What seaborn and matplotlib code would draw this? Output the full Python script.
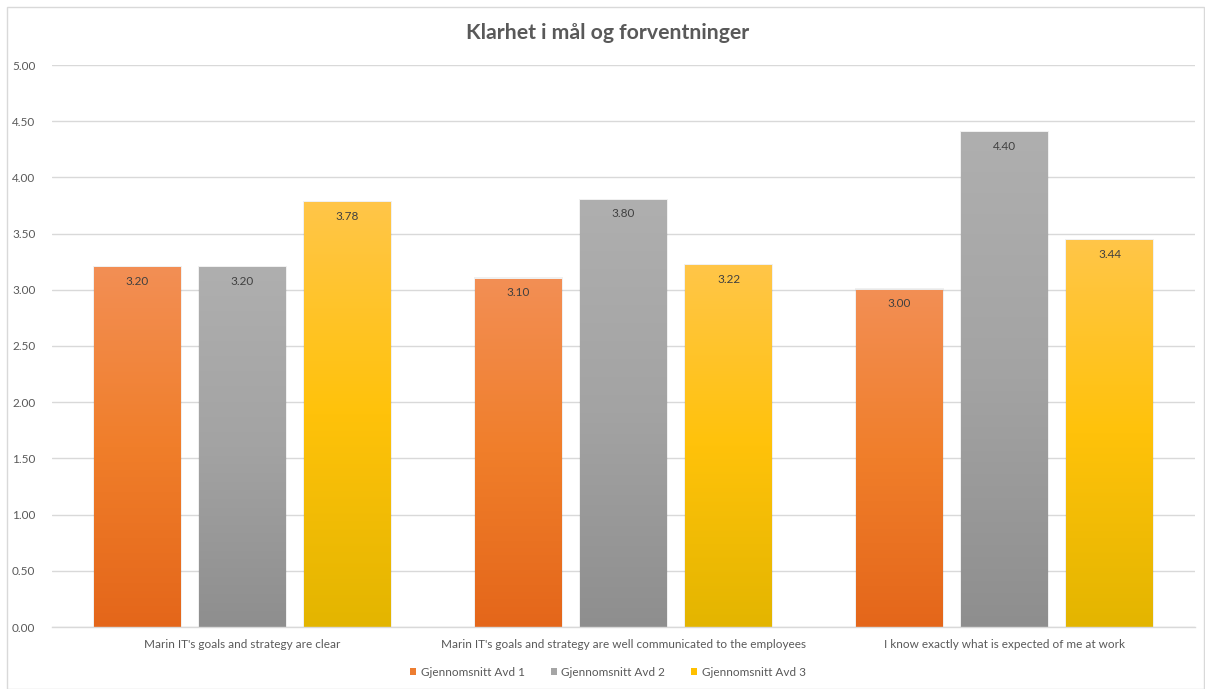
import numpy as np
import pandas as pd
import matplotlib
matplotlib.use("Agg")
import matplotlib.pyplot as plt
from matplotlib.colors import LinearSegmentedColormap, to_rgb
from matplotlib.patches import Rectangle
import seaborn as sns

# Survey results: average score per statement and department
categories = [
    "Marin IT's goals and strategy are clear",
    "Marin IT's goals and strategy are well communicated to the employees",
    "I know exactly what is expected of me at work",
]
series = ["Gjennomsnitt Avd 1", "Gjennomsnitt Avd 2", "Gjennomsnitt Avd 3"]
avd1 = [3.20, 3.10, 3.00]
avd2 = [3.20, 3.80, 4.40]
avd3 = [3.78, 3.22, 3.44]
title = "Klarhet i mål og forventninger"

base_colors = ["#ED7D31", "#A5A5A5", "#FFC000"]
# bottom, middle, top stops of each bar's vertical gradient
gradients = [
    ["#E4661A", "#F07E2A", "#F38F55"],
    ["#8E8E8E", "#A3A3A3", "#AFAFAF"],
    ["#E3B500", "#FFC20A", "#FFC649"],
]

df = pd.DataFrame({
    "category": categories * 3,
    "series": [s for s in series for _ in categories],
    "value": avd1 + avd2 + avd3,
})

sns.set_theme(style="white")
plt.rcParams["font.family"] = ["Lato", "DejaVu Sans"]
text_color = "#595959"
grid_color = "#D9D9D9"

fig = plt.figure(figsize=(12.05, 6.89), dpi=100)
ax = fig.add_axes([52 / 1205, 62 / 689, (1195 - 52) / 1205, (627 - 65) / 689])

sns.barplot(data=df, x="category", y="value", hue="series",
            order=categories, hue_order=series, palette=base_colors,
            width=0.827, gap=0.18, legend=False, ax=ax, zorder=2,
            edgecolor="none", linewidth=0)

ax.set_ylim(0, 5)
ax.set_yticks(np.arange(0, 5.01, 0.5))
ax.yaxis.set_major_formatter(matplotlib.ticker.FormatStrFormatter("%.2f"))
ax.yaxis.grid(True, color=grid_color, linewidth=1)
ax.set_axisbelow(True)
for side in ["top", "right", "left"]:
    ax.spines[side].set_visible(False)
ax.spines["bottom"].set_color(grid_color)
ax.spines["bottom"].set_linewidth(1)
ax.tick_params(axis="both", length=0, colors=text_color, labelsize=8.5)
ax.tick_params(axis="y", pad=12)
ax.tick_params(axis="x", pad=9)
ax.set_xlabel("")
ax.set_ylabel("")

# Replace flat fills with vertical gradients
xlim = ax.get_xlim()
for container, stops in zip(ax.containers, gradients):
    cmap = LinearSegmentedColormap.from_list("g", [to_rgb(c) for c in stops])
    grad = np.linspace(1, 0, 256).reshape(-1, 1)
    for bar in container:
        x0, w, h = bar.get_x(), bar.get_width(), bar.get_height()
        # faint shadow around the bar
        ax.add_patch(Rectangle((x0 - 0.004, 0), w + 0.008, h + 0.012,
                               facecolor="#000000", alpha=0.06,
                               edgecolor="none", zorder=1.5))
        im = ax.imshow(grad, cmap=cmap, aspect="auto",
                       extent=[x0 - 0.01, x0 + w + 0.01, -0.02, h + 0.02],
                       zorder=2.5, interpolation="bilinear")
        im.set_clip_path(bar)
    ax.bar_label(container, fmt="%.2f", padding=-14, color="#404040",
                 fontsize=8.5, zorder=3)
ax.set_xlim(xlim)
ax.set_ylim(0, 5)

fig.text(608 / 1205, 1 - 33 / 689, title, ha="center", va="center",
         fontsize=15.3, fontweight="bold", color=text_color)

handles = [Rectangle((0, 0), 1, 1, facecolor=c, edgecolor="none")
           for c in base_colors]
fig.legend(handles, series, loc="center", bbox_to_anchor=(608 / 1205, 1 - 672 / 689),
           ncol=3, frameon=False, fontsize=8.5, labelcolor=text_color,
           handlelength=0.5, handleheight=0.5, handletextpad=0.4,
           columnspacing=2.2)

# chart area border
fig.patches.append(Rectangle((7 / 1205, 0), 1 - 8 / 1205, 1 - 7 / 689,
                             transform=fig.transFigure, fill=False,
                             edgecolor=grid_color, linewidth=1))

fig.savefig("out.png", dpi=100)
